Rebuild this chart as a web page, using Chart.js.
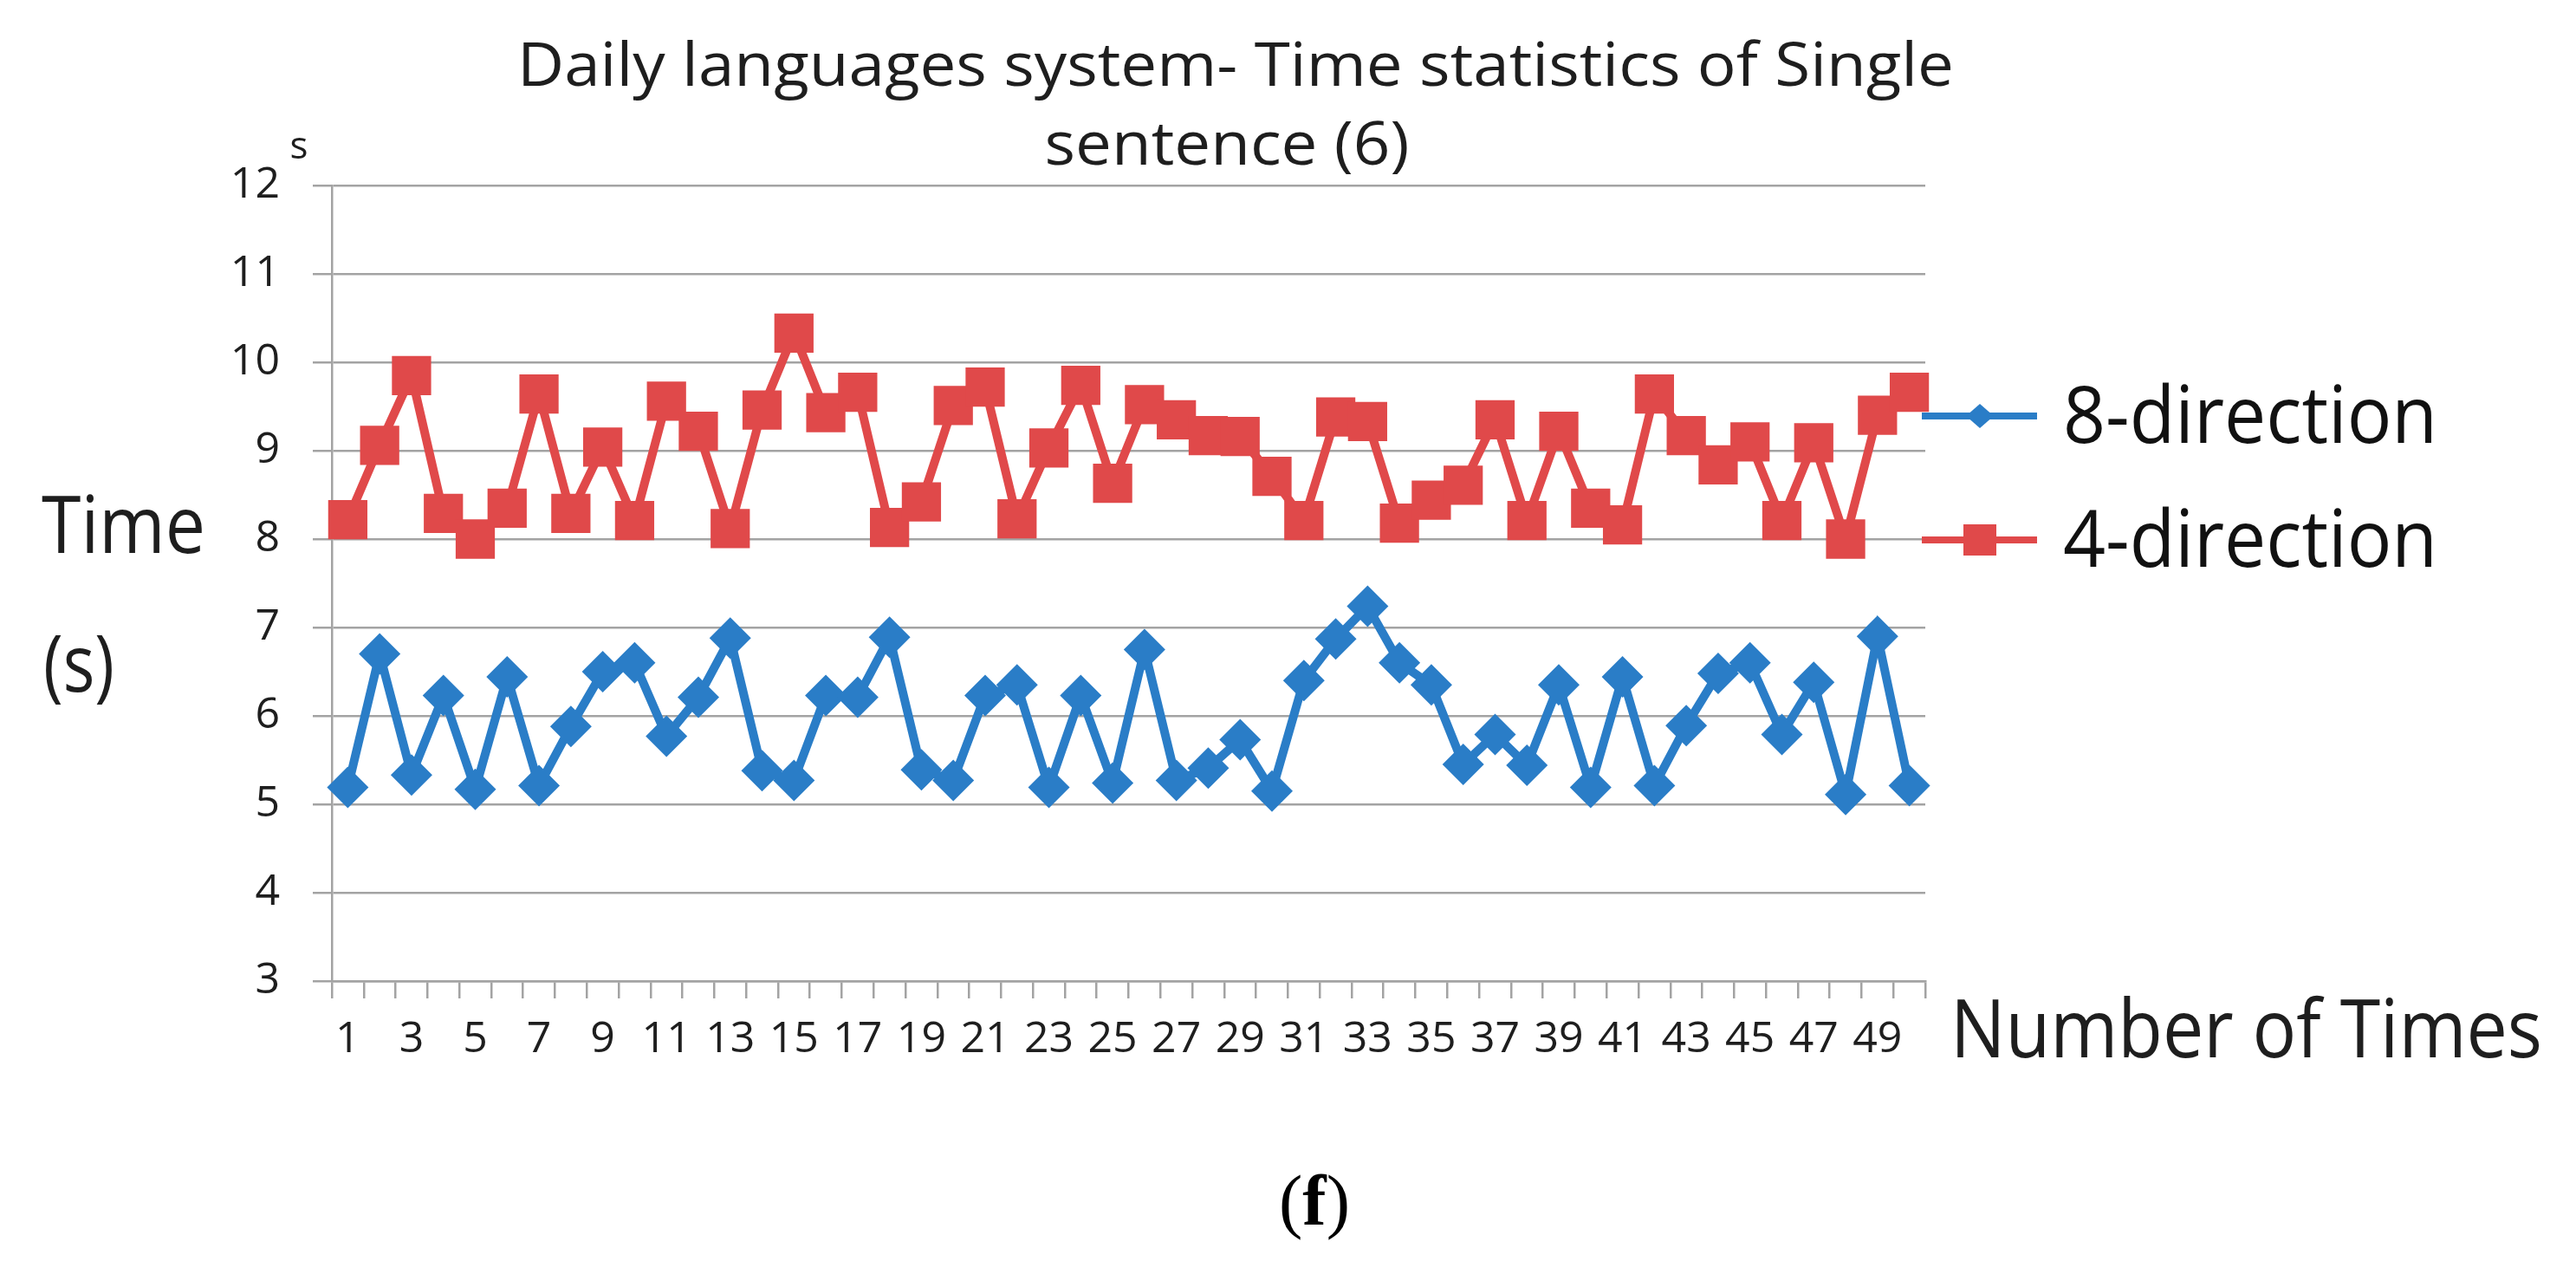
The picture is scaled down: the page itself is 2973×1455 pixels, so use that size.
<!DOCTYPE html>
<html>
<head>
<meta charset="utf-8">
<title>Daily languages system - Time statistics of Single sentence (6)</title>
<script src="https://cdn.jsdelivr.net/npm/chart.js@4.4.1/dist/chart.umd.min.js"></script>
<style>
  html, body { margin: 0; padding: 0; background: #fff; }
  #chart { display: block; }
</style>
</head>
<body>
<canvas id="chart" width="2973" height="1455"></canvas>
<script>
// Number of times (x categories)
const times = [1, 2, 3, 4, 5, 6, 7, 8, 9, 10,
    11, 12, 13, 14, 15, 16, 17, 18, 19, 20,
    21, 22, 23, 24, 25, 26, 27, 28, 29, 30,
    31, 32, 33, 34, 35, 36, 37, 38, 39, 40,
    41, 42, 43, 44, 45, 46, 47, 48, 49, 50];

// Time in seconds
const eightDirection = [5.19, 6.70, 5.33, 6.23, 5.17, 6.44, 5.21, 5.88, 6.50, 6.60,
    5.77, 6.21, 6.88, 5.38, 5.27, 6.23, 6.21, 6.89, 5.39, 5.27,
    6.23, 6.35, 5.19, 6.23, 5.24, 6.75, 5.27, 5.41, 5.73, 5.15,
    6.40, 6.87, 7.24, 6.60, 6.35, 5.45, 5.79, 5.44, 6.35, 5.19,
    6.44, 5.21, 5.89, 6.48, 6.60, 5.79, 6.38, 5.11, 6.90, 5.21];

const fourDirection = [8.22, 9.06, 9.85, 8.29, 8.00, 8.35, 9.64, 8.29, 9.04, 8.21,
    9.56, 9.22, 8.12, 9.46, 10.33, 9.43, 9.66, 8.13, 8.42, 9.51,
    9.72, 8.23, 9.03, 9.74, 8.63, 9.52, 9.35, 9.17, 9.16, 8.71,
    8.21, 9.38, 9.33, 8.18, 8.44, 8.61, 9.35, 8.21, 9.22, 8.35,
    8.16, 9.64, 9.17, 8.84, 9.10, 8.21, 9.09, 8.00, 9.40, 9.66];

const seriesNames = ['8-direction', '4-direction'];
const yTicks = { min: 3, max: 12, step: 1 };

const BLUE = '#2a7dc7';
const RED = '#e0494a';
const GRID = '#a3a3a3';
const SANS = '"Open Sans", "DejaVu Sans", sans-serif';

// draw a text squeezed/stretched to a target width
function fitText(ctx, text, x, y, font, width, align) {
    ctx.save();
    ctx.font = font;
    const w = ctx.measureText(text).width;
    const s = width ? width / w : 1;
    ctx.translate(x, y);
    ctx.scale(s, 1);
    let dx = 0;
    if (align === 'center') dx = -w / 2;
    ctx.textAlign = 'left';
    ctx.textBaseline = 'alphabetic';
    ctx.fillText(text, dx, 0);
    ctx.restore();
}

// titles, axis names, legend and caption
const decorations = {
    id: 'decorations',
    afterDraw(chart) {
        const ctx = chart.ctx;
        ctx.save();
        ctx.fillStyle = '#1e1e1e';
        fitText(ctx, 'Daily languages system- Time statistics of Single', 1426, 99, '70px ' + SANS, 1658, 'center');
        fitText(ctx, 'sentence (6)', 1416, 190, '70px ' + SANS, 421, 'center');
        fitText(ctx, 's', 345, 183, '44px ' + SANS, 0, 'center');
        fitText(ctx, 'Time', 48, 638, '92px ' + SANS, 189, 'left');
        fitText(ctx, '(s)', 50, 798, '92px ' + SANS, 82, 'left');
        fitText(ctx, 'Number of Times', 2251, 1220, '93px ' + SANS, 683, 'left');

        // legend
        const items = [
            { name: seriesNames[0], color: BLUE, y: 480, base: 511, marker: 'diamond' },
            { name: seriesNames[1], color: RED, y: 623, base: 654, marker: 'square' },
        ];
        items.forEach((it) => {
            ctx.strokeStyle = it.color;
            ctx.fillStyle = it.color;
            ctx.lineWidth = 8;
            ctx.beginPath();
            ctx.moveTo(2218, it.y);
            ctx.lineTo(2351, it.y);
            ctx.stroke();
            ctx.beginPath();
            if (it.marker === 'diamond') {
                ctx.moveTo(2285 - 16, it.y);
                ctx.lineTo(2285, it.y - 14);
                ctx.lineTo(2285 + 16, it.y);
                ctx.lineTo(2285, it.y + 14);
                ctx.closePath();
            } else {
                ctx.rect(2285 - 19, it.y - 18, 38, 36);
            }
            ctx.fill();
            ctx.fillStyle = '#111';
            fitText(ctx, it.name, 2381, it.base, '92px ' + SANS, 432, 'left');
        });

        // caption (f)
        ctx.fillStyle = '#000';
        ctx.font = '82px "Liberation Serif", "DejaVu Serif", serif';
        const wp = ctx.measureText('(').width;
        ctx.font = 'bold 82px "Liberation Serif", "DejaVu Serif", serif';
        const wf = ctx.measureText('f').width;
        const x0 = 1517 - (wp * 2 + wf) / 2;
        ctx.textAlign = 'left';
        ctx.textBaseline = 'alphabetic';
        ctx.font = '82px "Liberation Serif", "DejaVu Serif", serif';
        ctx.fillText('(', x0, 1413);
        ctx.fillText(')', x0 + wp + wf, 1413);
        ctx.font = 'bold 82px "Liberation Serif", "DejaVu Serif", serif';
        ctx.fillText('f', x0 + wp, 1413);
        ctx.restore();
    }
};

const ctx = document.getElementById('chart').getContext('2d');
new Chart(ctx, {
    type: 'line',
    data: {
        labels: times,
        datasets: [
            {
                label: seriesNames[0],
                data: eightDirection,
                borderColor: BLUE,
                backgroundColor: BLUE,
                borderWidth: 10,
                pointStyle: 'rectRot',
                pointRadius: 24,
                pointBorderWidth: 0,
                tension: 0,
            },
            {
                label: seriesNames[1],
                data: fourDirection,
                borderColor: RED,
                backgroundColor: RED,
                borderWidth: 10,
                pointStyle: 'rect',
                pointRadius: 32,
                pointBorderWidth: 0,
                tension: 0,
            },
        ],
    },
    options: {
        responsive: false,
        devicePixelRatio: 1,
        animation: false,
        layout: {
            padding: { left: 200, top: 214, right: 751, bottom: 200 },
        },
        plugins: {
            legend: { display: false },
            title: { display: false },
            tooltip: { enabled: false },
        },
        scales: {
            x: {
                type: 'category',
                offset: true,
                afterFit: (scale) => { scale.height = 123; },
                grid: {
                    offset: true,
                    drawOnChartArea: false,
                    drawTicks: true,
                    tickLength: 20,
                    color: GRID,
                    lineWidth: 2.5,
                },
                border: { color: GRID, width: 2.5 },
                ticks: {
                    autoSkip: false,
                    maxRotation: 0,
                    minRotation: 0,
                    padding: 18,
                    color: '#1e1e1e',
                    font: { family: SANS, size: 50 },
                    callback: (value, index) => (index % 2 === 0 ? times[index] : ''),
                },
            },
            y: {
                min: yTicks.min,
                max: yTicks.max,
                afterFit: (scale) => { scale.width = 183; },
                grid: {
                    color: GRID,
                    lineWidth: 2.5,
                    tickLength: 22,
                },
                border: { color: GRID, width: 2.5 },
                ticks: {
                    stepSize: yTicks.step,
                    padding: 38,
                    color: '#1e1e1e',
                    font: { family: SANS, size: 50 },
                },
            },
        },
    },
    plugins: [decorations],
});
</script>
</body>
</html>
